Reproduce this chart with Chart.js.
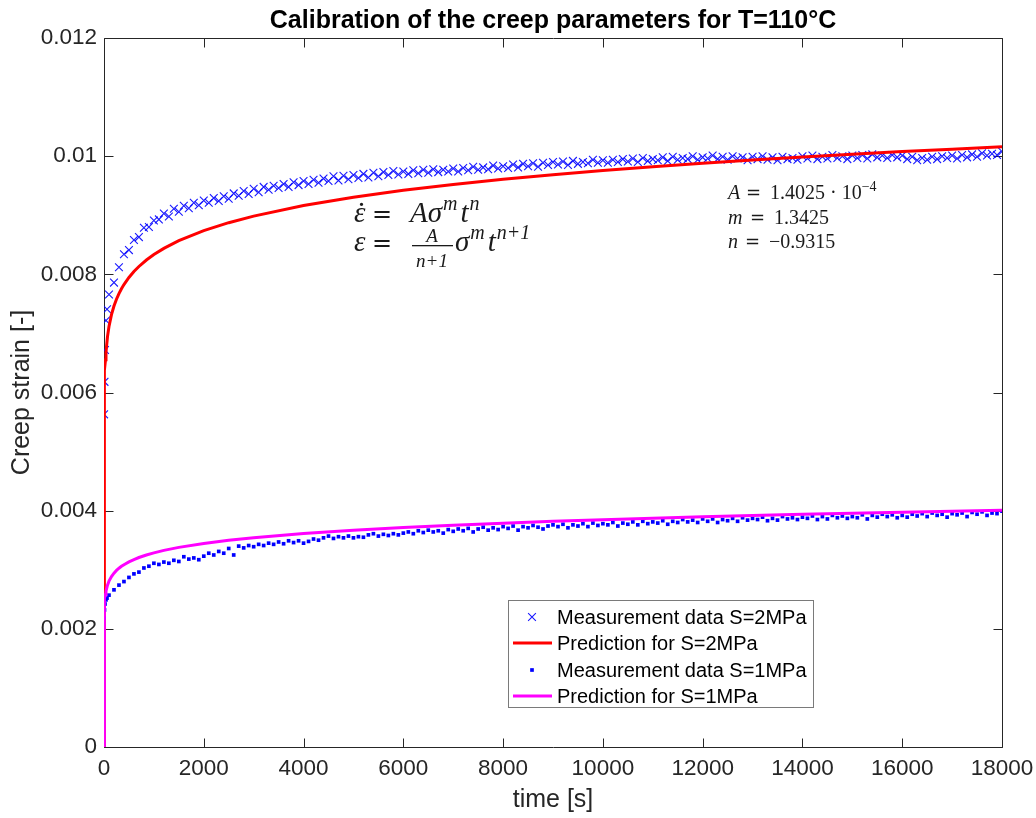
<!DOCTYPE html>
<html><head><meta charset="utf-8">
<script src="https://cdn.jsdelivr.net/npm/chart.js@4.4.1/dist/chart.umd.min.js"></script>
<style>html,body{margin:0;padding:0;background:#fff}#wrap{width:1036px;height:818px}</style>
</head><body><div id="wrap"><canvas id="c" width="1036" height="818"></canvas></div>
<script>
const chartTitle = 'Calibration of the creep parameters for T=110°C';
const xAxisLabel = 'time [s]';
const yAxisLabel = 'Creep strain [-]';
const seriesNames = ['Measurement data S=2MPa', 'Prediction for S=2MPa', 'Measurement data S=1MPa', 'Prediction for S=1MPa'];
const xTicks = [0, 2000, 4000, 6000, 8000, 10000, 12000, 14000, 16000, 18000];
const yTicks = [0, 0.002, 0.004, 0.006, 0.008, 0.01, 0.012];

const measTime = [2, 10, 20, 40, 60,
  100, 200, 300, 400, 500, 600, 700, 800, 900, 1000,
  1100, 1200, 1300, 1400, 1500, 1600, 1700, 1800, 1900, 2000,
  2100, 2200, 2300, 2400, 2500, 2600, 2700, 2800, 2900, 3000,
  3100, 3200, 3300, 3400, 3500, 3600, 3700, 3800, 3900, 4000,
  4100, 4200, 4300, 4400, 4500, 4600, 4700, 4800, 4900, 5000,
  5100, 5200, 5300, 5400, 5500, 5600, 5700, 5800, 5900, 6000,
  6100, 6200, 6300, 6400, 6500, 6600, 6700, 6800, 6900, 7000,
  7100, 7200, 7300, 7400, 7500, 7600, 7700, 7800, 7900, 8000,
  8100, 8200, 8300, 8400, 8500, 8600, 8700, 8800, 8900, 9000,
  9100, 9200, 9300, 9400, 9500, 9600, 9700, 9800, 9900, 10000,
  10100, 10200, 10300, 10400, 10500, 10600, 10700, 10800, 10900, 11000,
  11100, 11200, 11300, 11400, 11500, 11600, 11700, 11800, 11900, 12000,
  12100, 12200, 12300, 12400, 12500, 12600, 12700, 12800, 12900, 13000,
  13100, 13200, 13300, 13400, 13500, 13600, 13700, 13800, 13900, 14000,
  14100, 14200, 14300, 14400, 14500, 14600, 14700, 14800, 14900, 15000,
  15100, 15200, 15300, 15400, 15500, 15600, 15700, 15800, 15900, 16000,
  16100, 16200, 16300, 16400, 16500, 16600, 16700, 16800, 16900, 17000,
  17100, 17200, 17300, 17400, 17500, 17600, 17700, 17800, 17900, 18000];

const meas2 = [0.00563, 0.00618, 0.00672, 0.00722, 0.00741,
  0.00766, 0.00786, 0.00812, 0.00834, 0.00841, 0.00858, 0.00863, 0.00879, 0.00880, 0.00891,
  0.00893, 0.00903, 0.00898, 0.00911, 0.00906, 0.00916, 0.00912, 0.00921, 0.00917, 0.00925,
  0.00921, 0.00929, 0.00924, 0.00932, 0.00928, 0.00937, 0.00933, 0.00941, 0.00936, 0.00945,
  0.00939, 0.00948, 0.00943, 0.00950, 0.00946, 0.00953, 0.00948, 0.00956, 0.00951, 0.00958,
  0.00953, 0.00960, 0.00955, 0.00962, 0.00958, 0.00966, 0.00959, 0.00967, 0.00961, 0.00968,
  0.00963, 0.00970, 0.00964, 0.00972, 0.00966, 0.00973, 0.00968, 0.00975, 0.00969, 0.00974,
  0.00970, 0.00976, 0.00971, 0.00977, 0.00972, 0.00978, 0.00973, 0.00977, 0.00974, 0.00979,
  0.00974, 0.00980, 0.00976, 0.00982, 0.00977, 0.00981, 0.00978, 0.00984, 0.00979, 0.00983,
  0.00980, 0.00986, 0.00981, 0.00987, 0.00983, 0.00988, 0.00982, 0.00989, 0.00985, 0.00990,
  0.00986, 0.00991, 0.00985, 0.00992, 0.00987, 0.00990, 0.00988, 0.00994, 0.00989, 0.00993,
  0.00989, 0.00994, 0.00990, 0.00995, 0.00991, 0.00996, 0.00990, 0.00997, 0.00992, 0.00995,
  0.00993, 0.00998, 0.00992, 0.00999, 0.00994, 0.00997, 0.00995, 0.01000, 0.00994, 0.00998,
  0.00996, 0.01001, 0.00995, 0.00999, 0.00994, 0.01000, 0.00996, 0.00998, 0.00993, 0.00999,
  0.00995, 0.01000, 0.00994, 0.00998, 0.00993, 0.00999, 0.00995, 0.00997, 0.00994, 0.01000,
  0.00996, 0.01001, 0.00995, 0.00999, 0.00996, 0.01002, 0.00997, 0.01000, 0.00995, 0.01001,
  0.00997, 0.01002, 0.00996, 0.01003, 0.00998, 0.01001, 0.00997, 0.01002, 0.00998, 0.01001,
  0.00995, 0.00999, 0.00993, 0.00997, 0.00994, 0.00999, 0.00995, 0.01000, 0.00997, 0.01001,
  0.00996, 0.01002, 0.00998, 0.01003, 0.00999, 0.01005, 0.01001, 0.01004, 0.01002, 0.01008];

const meas1 = [0.00218, 0.00232, 0.00242, 0.00249, 0.00252,
  0.00257, 0.00266, 0.00274, 0.00280, 0.00287, 0.00293, 0.00296, 0.00303, 0.00306, 0.00311,
  0.00309, 0.00313, 0.00311, 0.00316, 0.00314, 0.00322, 0.00318, 0.00320, 0.00317, 0.00323,
  0.00328, 0.00325, 0.00331, 0.00328, 0.00336, 0.00325, 0.00340, 0.00337, 0.00341, 0.00339,
  0.00343, 0.00341, 0.00345, 0.00343, 0.00347, 0.00344, 0.00349, 0.00346, 0.00349, 0.00345,
  0.00348, 0.00352, 0.00350, 0.00354, 0.00357, 0.00353, 0.00356, 0.00354, 0.00357, 0.00354,
  0.00356, 0.00355, 0.00359, 0.00361, 0.00357, 0.00360, 0.00358, 0.00361, 0.00359, 0.00362,
  0.00364, 0.00361, 0.00366, 0.00363, 0.00367, 0.00364, 0.00366, 0.00362, 0.00368, 0.00365,
  0.00369, 0.00366, 0.00370, 0.00364, 0.00369, 0.00372, 0.00367, 0.00371, 0.00368, 0.00373,
  0.00370, 0.00374, 0.00367, 0.00373, 0.00371, 0.00375, 0.00372, 0.00369, 0.00374, 0.00376,
  0.00373, 0.00377, 0.00371, 0.00376, 0.00374, 0.00378, 0.00373, 0.00379, 0.00375, 0.00378,
  0.00376, 0.00380, 0.00374, 0.00379, 0.00377, 0.00381, 0.00376, 0.00382, 0.00378, 0.00381,
  0.00379, 0.00383, 0.00377, 0.00382, 0.00380, 0.00385, 0.00381, 0.00384, 0.00380, 0.00386,
  0.00382, 0.00386, 0.00380, 0.00385, 0.00383, 0.00387, 0.00382, 0.00388, 0.00384, 0.00387,
  0.00385, 0.00389, 0.00383, 0.00387, 0.00384, 0.00390, 0.00386, 0.00388, 0.00385, 0.00389,
  0.00387, 0.00391, 0.00385, 0.00390, 0.00386, 0.00392, 0.00388, 0.00391, 0.00387, 0.00390,
  0.00388, 0.00393, 0.00386, 0.00392, 0.00389, 0.00394, 0.00390, 0.00393, 0.00388, 0.00392,
  0.00389, 0.00394, 0.00391, 0.00395, 0.00390, 0.00396, 0.00392, 0.00394, 0.00389, 0.00395,
  0.00393, 0.00396, 0.00390, 0.00397, 0.00394, 0.00398, 0.00392, 0.00396, 0.00395, 0.00399];

const predTime = [0, 0.5, 2, 5, 10, 20, 30, 40, 70, 100,
  150, 200, 250, 300, 350, 400, 500, 600, 700, 850,
  1000, 1200, 1500, 2000, 2500, 3000, 4000, 5000, 6000, 7000,
  8000, 9000, 10000, 11000, 12000, 13000, 14000, 15000, 16000, 17000, 18000];
const pred2 = [0, 0.004951, 0.005445, 0.005797, 0.006079, 0.006375, 0.006554, 0.006685, 0.006946, 0.007118,
  0.007318, 0.007464, 0.007579, 0.007674, 0.007756, 0.007827, 0.007947, 0.008047, 0.008133, 0.008242,
  0.008334, 0.008439, 0.008569, 0.008739, 0.008874, 0.008985, 0.009164, 0.009305, 0.009422, 0.009522,
  0.009610, 0.009687, 0.009758, 0.009822, 0.009880, 0.009935, 0.009985, 0.010032, 0.010077, 0.010119, 0.010158];
const pred1 = [0, 0.001953, 0.002147, 0.002286, 0.002397, 0.002514, 0.002585, 0.002636, 0.002739, 0.002807,
  0.002886, 0.002943, 0.002989, 0.003026, 0.003058, 0.003086, 0.003134, 0.003173, 0.003207, 0.003250,
  0.003286, 0.003328, 0.003379, 0.003446, 0.003499, 0.003543, 0.003614, 0.003669, 0.003715, 0.003755,
  0.003789, 0.003820, 0.003848, 0.003873, 0.003896, 0.003918, 0.003938, 0.003956, 0.003974, 0.003990, 0.004006];

const SANS = '"Liberation Sans", Arial, Helvetica, sans-serif';
const SERIF = '"Liberation Serif", "Times New Roman", serif';
const EQF = '"DejaVu Serif", serif';
const AX = '#262626';

const pts = (xs, ys) => xs.map((t, i) => ({x: t, y: ys[i]}));

const boxPlugin = {
  id: 'matlabBox',
  beforeDatasetsDraw(chart) {
    const {ctx, chartArea: a, scales: {x, y}} = chart;
    ctx.save();
    ctx.strokeStyle = AX;
    ctx.lineWidth = 1;
    const L = Math.round(a.left) + 0.5, R = Math.round(a.right) + 0.5;
    const T = Math.round(a.top) + 0.5, B = Math.round(a.bottom) + 0.5;
    ctx.beginPath();
    ctx.rect(L, T, R - L, B - T);
    const tl = 9;
    xTicks.forEach(v => {
      const px = Math.round(x.getPixelForValue(v)) + 0.5;
      ctx.moveTo(px, B); ctx.lineTo(px, B - tl);
      ctx.moveTo(px, T); ctx.lineTo(px, T + tl);
    });
    yTicks.forEach(v => {
      const py = Math.round(y.getPixelForValue(v)) + 0.5;
      ctx.moveTo(L, py); ctx.lineTo(L + tl, py);
      ctx.moveTo(R, py); ctx.lineTo(R - tl, py);
    });
    ctx.stroke();
    ctx.fillStyle = '#000';
    ctx.font = 'bold 25px ' + SANS;
    ctx.textAlign = 'center';
    ctx.textBaseline = 'alphabetic';
    ctx.fillText(chartTitle, (a.left + a.right) / 2, 28);
    ctx.restore();
  }
};

function runs(ctx, x, y, list) {
  for (const r of list) {
    if (r.at !== undefined) x = r.at;
    ctx.font = (r.i ? 'italic ' : '') + r.s + 'px ' + (r.f || SERIF);
    ctx.fillText(r.t, x, y + (r.dy || 0));
    x += ctx.measureText(r.t).width + (r.g || 0);
  }
  return x;
}

const annotPlugin = {
  id: 'annot',
  afterDatasetsDraw(chart) {
    const ctx = chart.ctx;
    ctx.save();
    ctx.fillStyle = '#1a1a1a';
    ctx.textAlign = 'left';
    ctx.textBaseline = 'alphabetic';
    const y1 = 222;
    runs(ctx, 354, y1, [
      {t: 'ε', i: 1, s: 29},
      {t: '=', s: 24, f: EQF, at: 372},
      {t: 'A', i: 1, s: 29, at: 410},
      {t: 'σ', i: 1, s: 29, g: 1},
      {t: 'm', i: 1, s: 20, dy: -12, g: 3},
      {t: 't', i: 1, s: 29, g: 1},
      {t: 'n', i: 1, s: 20, dy: -12}
    ]);
    ctx.font = '28px ' + SERIF;
    ctx.fillText('.', 358, y1 - 16);
    const y2 = 251;
    runs(ctx, 354, y2, [
      {t: 'ε', i: 1, s: 29},
      {t: '=', s: 24, f: EQF, at: 372}
    ]);
    ctx.textAlign = 'center';
    ctx.font = 'italic 19px ' + SERIF;
    ctx.fillText('A', 432, y2 - 9);
    ctx.fillText('n+1', 432, y2 + 16);
    ctx.fillRect(412, y2 - 6, 41, 1.3);
    ctx.textAlign = 'left';
    runs(ctx, 455, y2, [
      {t: 'σ', i: 1, s: 29, g: 1},
      {t: 'm', i: 1, s: 20, dy: -12, g: 3},
      {t: 't', i: 1, s: 29, g: 1},
      {t: 'n+1', i: 1, s: 20, dy: -12}
    ]);
    runs(ctx, 728, 199, [
      {t: 'A', i: 1, s: 20},
      {t: '=', s: 18, f: EQF, at: 746},
      {t: '1.4025 · 10', s: 20, at: 770},
      {t: '−4', s: 14, dy: -8}
    ]);
    runs(ctx, 728, 224, [
      {t: 'm', i: 1, s: 20},
      {t: '=', s: 18, f: EQF, at: 750},
      {t: '1.3425', s: 20, at: 774}
    ]);
    runs(ctx, 728, 248, [
      {t: 'n', i: 1, s: 20},
      {t: '=', s: 18, f: EQF, at: 745},
      {t: '−0.9315', s: 20, at: 769}
    ]);
    ctx.restore();
  }
};

const legendPlugin = {
  id: 'legendBox',
  afterDraw(chart) {
    const ctx = chart.ctx;
    ctx.save();
    const bx = 508.5, by = 600.5, bw = 305, bh = 107;
    ctx.fillStyle = '#fff';
    ctx.fillRect(bx, by, bw, bh);
    ctx.strokeStyle = '#7a7a7a';
    ctx.lineWidth = 1;
    ctx.strokeRect(bx, by, bw, bh);
    const rows = [617, 643, 670, 696];
    const ds = chart.data.datasets;
    ctx.font = '20px ' + SANS;
    ctx.textBaseline = 'middle';
    ctx.textAlign = 'left';
    rows.forEach((ry, i) => {
      const d = ds[i];
      if (d.showLine) {
        ctx.strokeStyle = d.borderColor;
        ctx.lineWidth = d.borderWidth;
        ctx.beginPath(); ctx.moveTo(513, ry); ctx.lineTo(552, ry); ctx.stroke();
      } else {
        ctx.strokeStyle = d.pointBorderColor;
        ctx.fillStyle = d.pointBackgroundColor;
        ctx.lineWidth = d.pointBorderWidth;
        const s = d.pointRadius * Math.SQRT1_2;
        ctx.beginPath();
        if (d.pointStyle === 'crossRot') {
          ctx.moveTo(532 - s, ry - s); ctx.lineTo(532 + s, ry + s);
          ctx.moveTo(532 - s, ry + s); ctx.lineTo(532 + s, ry - s);
          ctx.stroke();
        } else {
          ctx.fillRect(532 - s, ry - s, 2 * s, 2 * s);
        }
      }
      ctx.fillStyle = '#000';
      ctx.fillText(seriesNames[i], 557, ry + 1);
    });
    ctx.restore();
  }
};

new Chart(document.getElementById('c').getContext('2d'), {
  type: 'scatter',
  data: {
    datasets: [
      {label: seriesNames[0], data: pts(measTime, meas2), showLine: false, pointStyle: 'crossRot', pointRadius: 5.5,
        pointBorderWidth: 1.1, pointBorderColor: 'rgba(0,0,255,0.9)', pointBackgroundColor: 'rgba(0,0,255,0.9)', order: 4},
      {label: seriesNames[1], data: pts(predTime, pred2), showLine: true, pointRadius: 0, borderColor: '#ff0000',
        borderWidth: 3, tension: 0, fill: false, order: 3},
      {label: seriesNames[2], data: pts(measTime, meas1), showLine: false, pointStyle: 'rect', pointRadius: 2.6,
        pointBorderWidth: 0, pointBorderColor: '#0000ff', pointBackgroundColor: '#0000ff', order: 2},
      {label: seriesNames[3], data: pts(predTime, pred1), showLine: true, pointRadius: 0, borderColor: '#ff00ff',
        borderWidth: 3, tension: 0, fill: false, order: 1}
    ]
  },
  options: {
    responsive: false, animation: false, devicePixelRatio: 1,
    layout: {padding: {top: 38, right: 34, bottom: 0, left: 0}},
    plugins: {legend: {display: false}, tooltip: {enabled: false}, title: {display: false}},
    scales: {
      x: {
        type: 'linear', min: 0, max: 18000,
        afterBuildTicks: s => { s.ticks = xTicks.map(v => ({value: v})); },
        grid: {display: false, drawTicks: false}, border: {display: false},
        ticks: {color: AX, font: {family: SANS, size: 22.5}, padding: 8, maxRotation: 0, autoSkip: false, callback: v => String(v)},
        title: {display: true, text: xAxisLabel, color: AX, font: {family: SANS, size: 25}, padding: {top: 0, bottom: 3}},
        afterFit: s => { s.height = 71; s.paddingLeft = 0; s.paddingRight = 0; }
      },
      y: {
        type: 'linear', min: 0, max: 0.012,
        afterBuildTicks: s => { s.ticks = yTicks.map(v => ({value: v})); },
        grid: {display: false, drawTicks: false}, border: {display: false},
        ticks: {color: AX, font: {family: SANS, size: 22.5}, padding: 7, autoSkip: false, callback: v => String(parseFloat(Number(v).toFixed(3)))},
        title: {display: true, text: yAxisLabel, color: AX, font: {family: SANS, size: 25}, padding: {top: 7, bottom: 0}},
        afterFit: s => { s.width = 104; s.paddingTop = 0; s.paddingBottom = 0; }
      }
    }
  },
  plugins: [boxPlugin, annotPlugin, legendPlugin]
});
</script>
</body></html>
